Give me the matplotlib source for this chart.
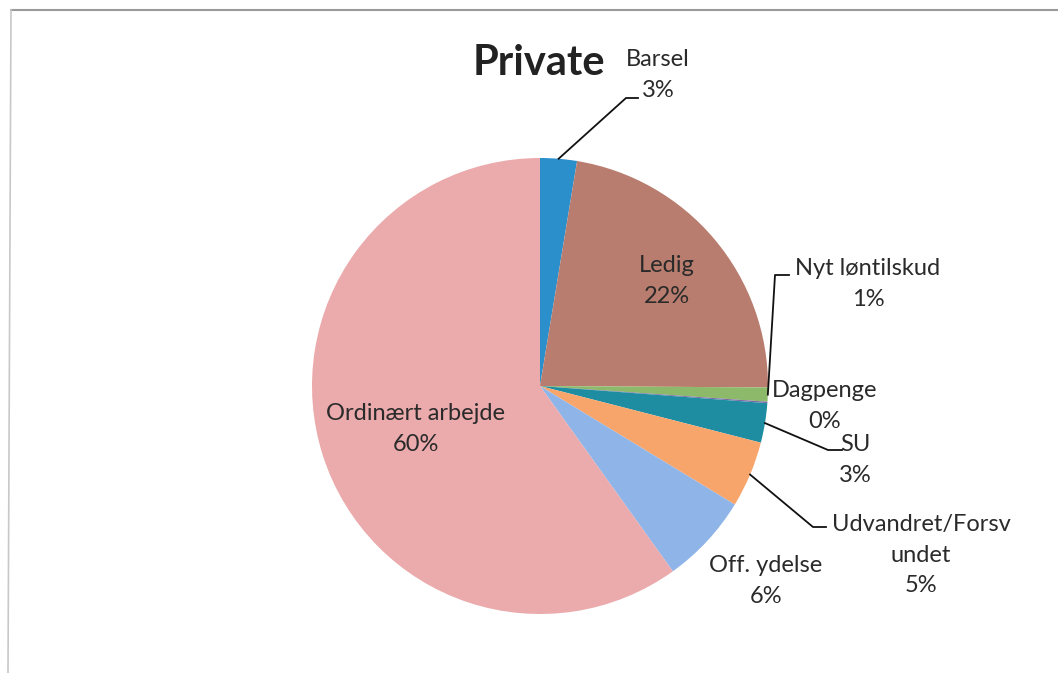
import matplotlib
matplotlib.use("Agg")
import matplotlib.pyplot as plt
import numpy as np

# share of people by status, "Private" group (percent)
labels = ["Barsel", "Ledig", "Nyt løntilskud", "Dagpenge", "SU",
          "Udvandret/Forsvundet", "Off. ydelse", "Ordinært arbejde"]
values = [2.6, 22.5, 1.0, 0.1, 2.8, 4.7, 6.4, 59.9]
colors = ["#2B8FCB", "#B87D6E", "#8DBA6A", "#7F6AA8", "#1E8DA2",
          "#F8A56C", "#8FB5E8", "#EBAAAC"]
# text shown for each slice (Excel wraps the long one)
label_text = ["Barsel", "Ledig", "Nyt løntilskud", "Dagpenge", "SU",
              "Udvandret/Forsv\nundet", "Off. ydelse", "Ordinært arbejde"]

W, H = 1058, 673
fig = plt.figure(figsize=(W / 100, H / 100), dpi=100)
ax = fig.add_axes([0, 0, 1, 1])

cx, cy, r = 540, H - 386, 228
wedges, _ = ax.pie(values, colors=colors, startangle=90, counterclock=False,
                   center=(cx, cy), radius=r,
                   wedgeprops=dict(linewidth=0))
ax.set_xlim(0, W)
ax.set_ylim(0, H)
ax.axis("off")

plt.rcParams['font.family'] = ['Lato', 'DejaVu Sans']
txt = "#2a2a2a"
fs = 17

def Y(y):
    return H - y

def anchor(w, frac=1.0):
    a = np.deg2rad((w.theta1 + w.theta2) / 2)
    return cx + r * frac * np.cos(a), cy + r * frac * np.sin(a)

ax.text(539, Y(63), "Private", ha="center", va="center", fontsize=30,
        fontweight="bold", color="#222222")

# label positions (pixels from top) and optional leader elbow
layout = {
    "Barsel": ((658, 75), [(626, 98), (638, 98)]),
    "Ledig": ((667, 281), None),
    "Nyt løntilskud": ((868, 284), [(775, 275), (789, 275)]),
    "Dagpenge": ((825, 406), None),
    "SU": ((855, 460), [(828, 450), (842, 450)]),
    "Udvandret/Forsvundet": ((921, 555), [(813, 527), (826, 527)]),
    "Off. ydelse": ((766, 581), None),
    "Ordinært arbejde": ((416, 429), None),
}

for w, name, lt, v in zip(wedges, labels, label_text, values):
    (tx, ty), elbow = layout[name]
    pct = f"{round(v):.0f}%"
    ax.text(tx, Y(ty), f"{lt}\n{pct}", ha="center", va="center",
            fontsize=fs, color=txt, linespacing=1.58)
    if elbow:
        ax0, ay0 = anchor(w)
        xs = [ax0] + [p[0] for p in elbow]
        ys = [ay0] + [Y(p[1]) for p in elbow]
        ax.plot(xs, ys, color="#111111", lw=1.3)

# scanned chart frame
ax.plot([11, W], [Y(10), Y(10)], color="#9a9a9a", lw=1.5)
ax.plot([11, 8], [Y(10), 0], color="#c8c8c8", lw=1.2)

fig.savefig("out.png", dpi=100)
